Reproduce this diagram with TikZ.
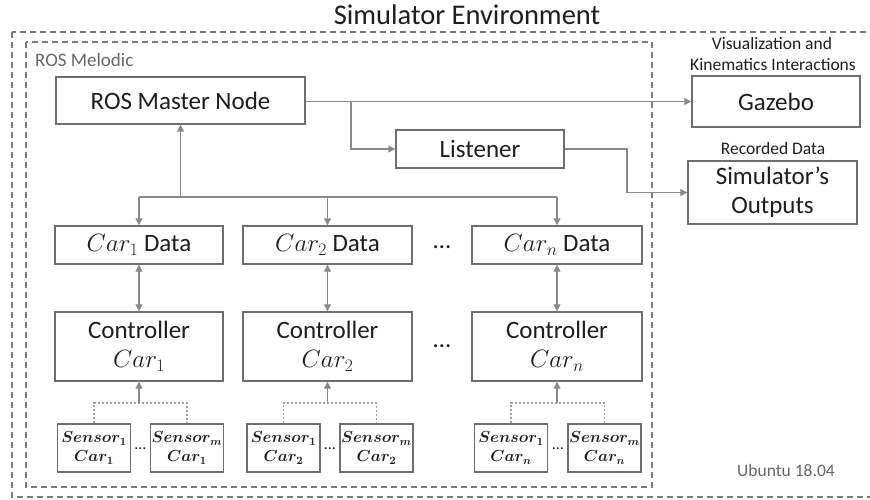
\RequirePackage{fix-cm}
\documentclass[tikz,border=0pt]{standalone}
\usepackage{amsmath}
\usepackage{fontspec}
\setmainfont{Carlito}
\usetikzlibrary{arrows.meta,calc}

\definecolor{boxgray}{HTML}{6E6E6E}
\definecolor{linegray}{HTML}{8A8A8A}
\definecolor{dotgray}{HTML}{A0A0A0}
\definecolor{framegray}{HTML}{7A7A7A}
\definecolor{txt}{HTML}{1E1E1E}
\definecolor{labelgray}{HTML}{666666}

\newcommand\fsMain{\fontsize{25}{29}\selectfont}
\newcommand\fsTitle{\fontsize{28.5}{32}\selectfont}
\newcommand\fsSmall{\fontsize{17.5}{21}\selectfont}
\newcommand\fsSensor{\fontsize{16}{19}\selectfont}

\tikzset{
  box/.style={draw=boxgray, line width=1.4pt, fill=white, text=txt,
    inner sep=0pt, align=center, font=\fsMain},
  sensorbox/.style={box, minimum width=73pt, minimum height=48pt, font=\fsSensor},
  conn/.style={draw=linegray, line width=1.2pt},
  arr/.style={conn, -{Triangle[length=7pt,width=7pt]}},
  darr/.style={conn, {Triangle[length=7pt,width=7pt]}-{Triangle[length=7pt,width=7pt]}},
  dotline/.style={draw=dotgray, line width=1.2pt, dash pattern=on 2pt off 2pt},
  frame/.style={draw=framegray, line width=1.5pt, dash pattern=on 6pt off 4pt},
  caption/.style={text=txt, font=\fsSmall, inner sep=0pt},
  ellip/.style={text=txt, font=\fsMain, inner sep=0pt},
}

\begin{document}
\begin{tikzpicture}[x=1pt,y=-1pt]
\useasboundingbox (0,0) rectangle (870,499);

% frames
\draw[frame] (12,32) rectangle (874,497);
\draw[frame] (26,42) rectangle (652,487);
\node[text=txt, font=\fsTitle, inner sep=0pt] (title) at (467,15) {Simulator Environment};
\node[text=labelgray, font=\fontsize{19}{22}\selectfont, anchor=west, inner sep=0pt] (ros) at (35,60) {ROS Melodic};
\node[text=labelgray, font=\fsSmall, inner sep=0pt] (ubuntu) at (786,470) {Ubuntu 18.04};

% main nodes
\node[box, minimum width=249pt, minimum height=47pt] (master) at (180.5,100.5) {ROS Master Node};
\node[box, minimum width=168pt, minimum height=51pt] (gazebo) at (776,101.5) {Gazebo};
\node[box, minimum width=168pt, minimum height=38pt] (listener) at (480,149) {Listener};
\node[box, minimum width=169pt, minimum height=63pt] (outputs) at (772.5,192.5) {Simulator’s\\Outputs};

\node[caption] (vis1) at (772,43) {Visualization and};
\node[caption] (vis2) at (773,65) {Kinematics Interactions};
\node[caption] (rec) at (773,148) {Recorded Data};

% car data
\node[box, minimum width=168pt, minimum height=38pt] (data1) at (139,245) {$Car_1$ Data};
\node[box, minimum width=169pt, minimum height=38pt] (data2) at (327.5,245) {$Car_2$ Data};
\node[box, minimum width=170pt, minimum height=38pt] (datan) at (557,245) {$Car_n$ Data};

% controllers
\node[box, minimum width=168pt, minimum height=69pt] (ctrl1) at (139,346.5) {Controller\\$Car_1$};
\node[box, minimum width=169pt, minimum height=69pt] (ctrl2) at (327.5,346.5) {Controller\\$Car_2$};
\node[box, minimum width=170pt, minimum height=69pt] (ctrln) at (557,346.5) {Controller\\$Car_n$};

\node[ellip] (dotsA) at (442,247) {…};
\node[ellip] (dotsB) at (442,346) {…};

% sensors
\node[sensorbox] (s11) at (94,448) {$\boldsymbol{Sensor_1}$\\$\boldsymbol{Car_1}$};
\node[sensorbox] (s1m) at (187,448) {$\boldsymbol{Sensor_m}$\\$\boldsymbol{Car_1}$};
\node[sensorbox] (s21) at (283.5,448) {$\boldsymbol{Sensor_1}$\\$\boldsymbol{Car_2}$};
\node[sensorbox] (s2m) at (376.5,448) {$\boldsymbol{Sensor_m}$\\$\boldsymbol{Car_2}$};
\node[sensorbox] (sn1) at (511,448) {$\boldsymbol{Sensor_1}$\\$\boldsymbol{Car_n}$};
\node[sensorbox] (snm) at (604.5,448) {$\boldsymbol{Sensor_m}$\\$\boldsymbol{Car_n}$};

\node[text=txt, font=\fsSensor, inner sep=0pt] (sd1) at (140.5,449) {…};
\node[text=txt, font=\fsSensor, inner sep=0pt] (sd2) at (330,449) {…};
\node[text=txt, font=\fsSensor, inner sep=0pt] (sdn) at (558,449) {…};

% helper coordinates
\coordinate (split) at (351,0);
\coordinate (lbend) at (627,0);
\coordinate (bus) at (0,197);
\coordinate (sj) at (0,403);

% master to gazebo and listener
\draw[arr] (master.east |- gazebo.west) -- (gazebo.west);
\draw[arr] (split |- gazebo.west) |- (listener.west);
\draw[arr] (listener.east) -- (listener.east -| lbend) |- (outputs.west);

% bus between master and car data
\draw[arr] (master.south |- bus) -- (master.south);
\draw[conn] (data1.north |- bus) -- (datan.north |- bus);
\draw[arr] (data1.north |- bus) -- (data1.north);
\draw[arr] (data2.north |- bus) -- (data2.north);
\draw[arr] (datan.north |- bus) -- (datan.north);

% data <-> controller
\draw[darr] (data1.south) -- (ctrl1.north);
\draw[darr] (data2.south) -- (ctrl2.north);
\draw[darr] (datan.south) -- (ctrln.north);

% sensors to controllers
\draw[dotline] (s11.north) |- (s1m.north |- sj) -- (s1m.north);
\draw[dotline] (s21.north) |- (s2m.north |- sj) -- (s2m.north);
\draw[dotline] (sn1.north) |- (snm.north |- sj) -- (snm.north);
\draw[arr] (ctrl1.south |- sj) -- (ctrl1.south);
\draw[arr] (ctrl2.south |- sj) -- (ctrl2.south);
\draw[arr] (ctrln.south |- sj) -- (ctrln.south);
\end{tikzpicture}
\end{document}
